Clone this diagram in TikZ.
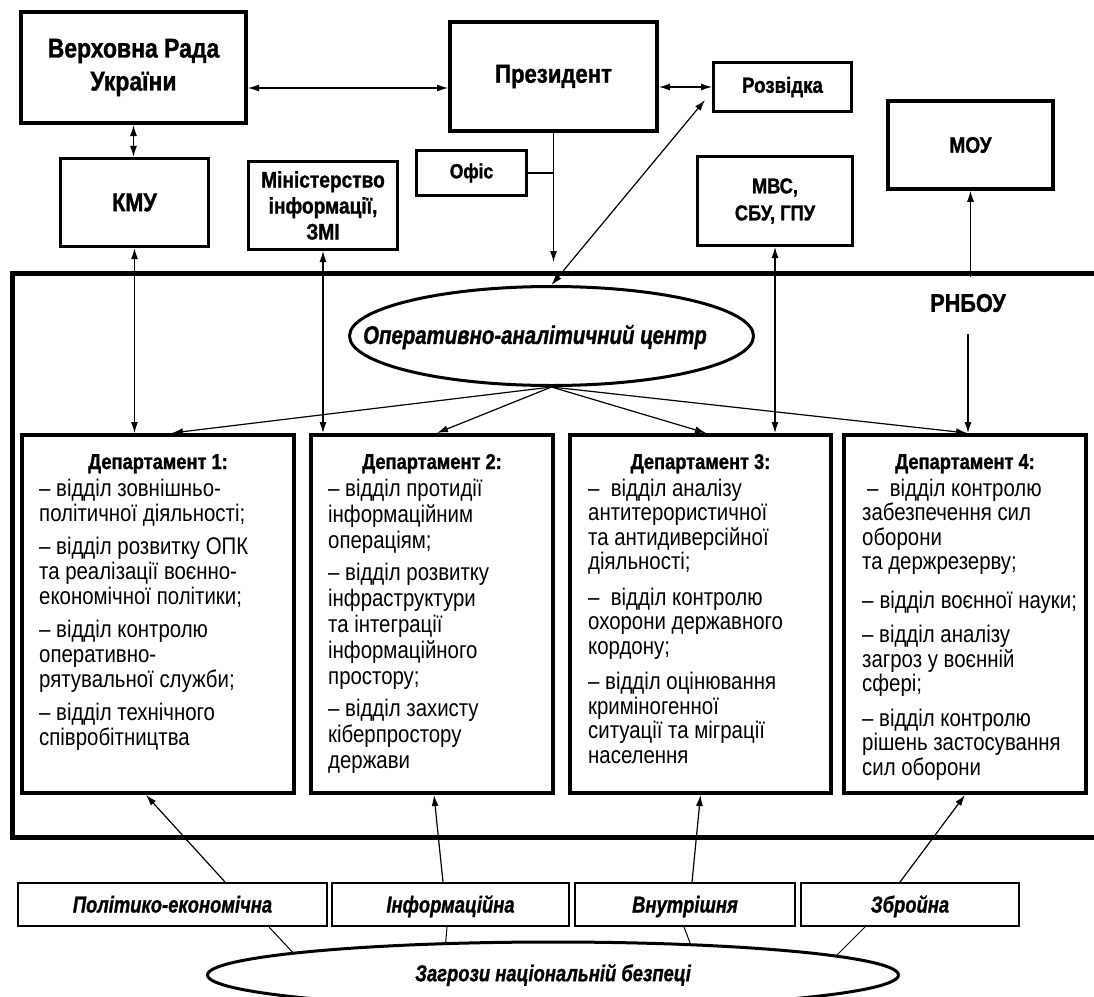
\documentclass[tikz,border=0pt]{standalone}
\usepackage{fontspec}
\setmainfont{Liberation Sans}
\newfontfamily\cn[FakeStretch=0.85]{Liberation Sans}
\newfontfamily\cnb[FakeStretch=0.85,FakeBold=1.2]{Liberation Sans Bold}
\newfontfamily\cib[FakeStretch=0.8,FakeBold=1]{Liberation Sans Bold Italic}
\usetikzlibrary{arrows.meta,shapes.geometric,calc}
\begin{document}
\begin{tikzpicture}[x=1pt,y=-1pt,
  box/.style={draw, inner sep=0pt, align=center},
  hd/.style 2 args={font=\cnb\fontsize{#1}{#2}\selectfont},
  it/.style={font=\cib\fontsize{#1}{28}\selectfont},
  dept/.style={draw, line width=4pt, inner sep=0pt, minimum height=358pt},
  thr/.style={draw, line width=2pt, inner sep=0pt, minimum height=43pt, text height=20pt, text depth=4pt},
  arr/.style={line width=1.2pt, -{Latex[length=11pt,width=7pt]}},
  darr/.style={line width=1.2pt, {Latex[length=11pt,width=7pt]}-{Latex[length=11pt,width=7pt]}},
  ln/.style={line width=1pt},
  body/.style={anchor=base west, inner sep=0pt, font=\cn\fontsize{24}{25}\selectfont},
  title/.style={anchor=base, inner sep=0pt, font=\cnb\fontsize{21.5}{25}\selectfont}
]
\useasboundingbox (0,0) rectangle (1094,996);
\fill[white] (0,0) rectangle (1094,996);

% top row
\node[box, line width=4pt, minimum width=225pt, minimum height=111pt, hd={27}{33}] (vr) at (133.5,67.5) {Верховна Рада\\України};
\node[box, line width=4pt, minimum width=207pt, minimum height=109pt, hd={26}{30}] (pres) at (553.5,76.5) {Президент};
\node[box, line width=3pt, minimum width=138pt, minimum height=49pt, hd={22}{26}] (rozv) at (782.5,87) {Розвідка};
\node[box, line width=3.5pt, minimum width=165pt, minimum height=88pt, hd={22.5}{26}] (mou) at (970.5,145) {МОУ};
\node[box, line width=3pt, minimum width=110pt, minimum height=45pt, hd={20.5}{24}] (ofis) at (471.5,173) {Офіс};
\node[box, line width=3.3pt, minimum width=148pt, minimum height=88pt, hd={25.5}{30}] (kmu) at (134.5,202.5) {КМУ};
\node[box, line width=3pt, minimum width=149pt, minimum height=88pt, hd={22.5}{26}] (min) at (323,205.5) {Міністерство\\інформації,\\ЗМІ};
\node[box, line width=3pt, minimum width=155pt, minimum height=89pt, hd={21.5}{27}] (mvs) at (775,201) {МВС,\\СБУ, ГПУ};

% RNBOU frame
\node[draw, line width=5pt, inner sep=0pt, minimum width=1108pt, minimum height=564pt] (fr) at (566,555) {};
\node[inner sep=0pt, hd={25.5}{30}] (rn) at (968,303) {РНБОУ};
\node[draw, ellipse, line width=3pt, inner sep=0pt, minimum width=404pt, minimum height=99pt] (oac) at (551.5,336) {};
\node[inner sep=0pt, it=25.5] (oact) at (535,337) {Оперативно-аналітичний центр};

% departments
\node[dept, minimum width=272pt] (d1) at (158,614) {};
\node[dept, minimum width=242pt] (d2) at (432,614) {};
\node[dept, minimum width=261pt] (d3) at (700.5,614) {};
\node[dept, minimum width=242pt] (d4) at (965,614) {};

\node[title] (h1) at (158,469) {Департамент 1:};
\node[title] (h2) at (432,469) {Департамент 2:};
\node[title] (h3) at (700.5,469) {Департамент 3:};
\node[title] (h4) at (965,469) {Департамент 4:};

\node[body] (t1) at (39,496) {\begin{minipage}[t]{255pt}\fontsize{24}{25}\selectfont
– відділ зовнішньо-\\
політичної діяльності;\\[8pt]
– відділ розвитку ОПК\\
та реалізації воєнно-\\
економічної політики;\\[8pt]
– відділ контролю\\
оперативно-\\
рятувальної служби;\\[8pt]
– відділ технічного\\
співробітництва\end{minipage}};

\node[body] (t2) at (328,496) {\begin{minipage}[t]{225pt}\fontsize{24}{26}\selectfont
– відділ протидії\\
інформаційним\\
операціям;\\[6pt]
– відділ розвитку\\
інфраструктури\\
та інтеграції\\
інформаційного\\
простору;\\[6pt]
– відділ захисту\\
кіберпростору\\
держави\end{minipage}};

\node[body] (t3) at (588,496) {\begin{minipage}[t]{245pt}\fontsize{24}{24.5}\selectfont
–\ \ відділ аналізу\\
антитерористичної\\
та антидиверсійної\\
діяльності;\\[11pt]
–\ \ відділ контролю\\
охорони державного\\
кордону;\\[11pt]
– відділ оцінювання\\
криміногенної\\
ситуації та міграції\\
населення\end{minipage}};

\node[body] (t4) at (862,496) {\begin{minipage}[t]{225pt}\fontsize{24}{24.5}\selectfont
\hspace*{5pt}–\ \ відділ контролю\\
забезпечення сил\\
оборони\\
та держрезерву;\\[14pt]
–\hspace{6pt}відділ воєнної науки;\\[10pt]
– відділ аналізу\\
загроз у воєнній\\
сфері;\\[10pt]
– відділ контролю\\
рішень застосування\\
сил оборони\end{minipage}};

% threats
\node[thr, minimum width=309pt, it=23] (b1) at (172.5,904.5) {Політико-економічна};
\node[thr, minimum width=237pt, it=23] (b2) at (450.5,904.5) {Інформаційна};
\node[thr, minimum width=220pt, it=23] (b3) at (685,904.5) {Внутрішня};
\node[thr, minimum width=218pt, it=23] (b4) at (910,904.5) {Збройна};
\node[draw, ellipse, line width=3pt, inner sep=0pt, minimum width=691pt, minimum height=66pt] (be) at (553,975) {};
\node[inner sep=0pt, it=23] (bet) at (553,975) {Загрози національній безпеці};

\coordinate (ptip) at (553.5,262);
\coordinate (rz) at (705,100);

% connectors
\draw[darr] ([yshift=-20.5pt]vr.east) -- ([yshift=-20.5pt]vr.east -| pres.west);
\draw[darr] (vr.south) -- (vr.south |- kmu.north);
\draw[darr] (pres.east |- rozv.west) -- (rozv.west);
\draw[arr] (pres.south) -- (ptip);
\draw[line width=1.2pt] (ofis.east) -- (ofis.east -| pres.south);
\draw[darr] (oac.north) -- (rz);
\draw[darr] (kmu.south) -- (kmu.south |- d1.north);
\draw[darr] (min.south) -- (min.south |- d2.north);
\draw[darr] (mvs.south) -- (mvs.south |- d3.north);
\draw[arr, shorten <=-6pt] (mou.south |- fr.north) -- (mou.south);
\draw[arr, shorten <=22pt] (rn.south) -- (rn.south |- d4.north);

\draw[arr] (oac.south) -- ($(d1.north)+(14,0)$);
\draw[arr] (oac.south) -- ($(d2.north)+(5,0)$);
\draw[arr] (oac.south) -- ($(d3.north)+(5.5,0)$);
\draw[arr] (oac.south) -- ($(d4.north)+(2,0)$);

\draw[arr] ($(b1.north)+(52.5,0)$) -- ($(d1.south)+(-12,0)$);
\draw[arr] ($(b2.north)+(-7.5,0)$) -- ($(d2.south)+(2,0)$);
\draw[arr] ($(b3.north)+(7,0)$) -- (d3.south);
\draw[arr] ($(b4.north)+(-10,0)$) -- (d4.south);

\draw[ln] ($(b1.south)+(96.5,0)$) -- (be.175);
\draw[ln] ($(b2.south)+(-3.5,0)$) -- (be.163);
\draw[ln] ($(b3.south)+(-1,0)$) -- (be.13);
\draw[ln] ($(b4.south)+(-45,0)$) -- (be.4);
\end{tikzpicture}
\end{document}
